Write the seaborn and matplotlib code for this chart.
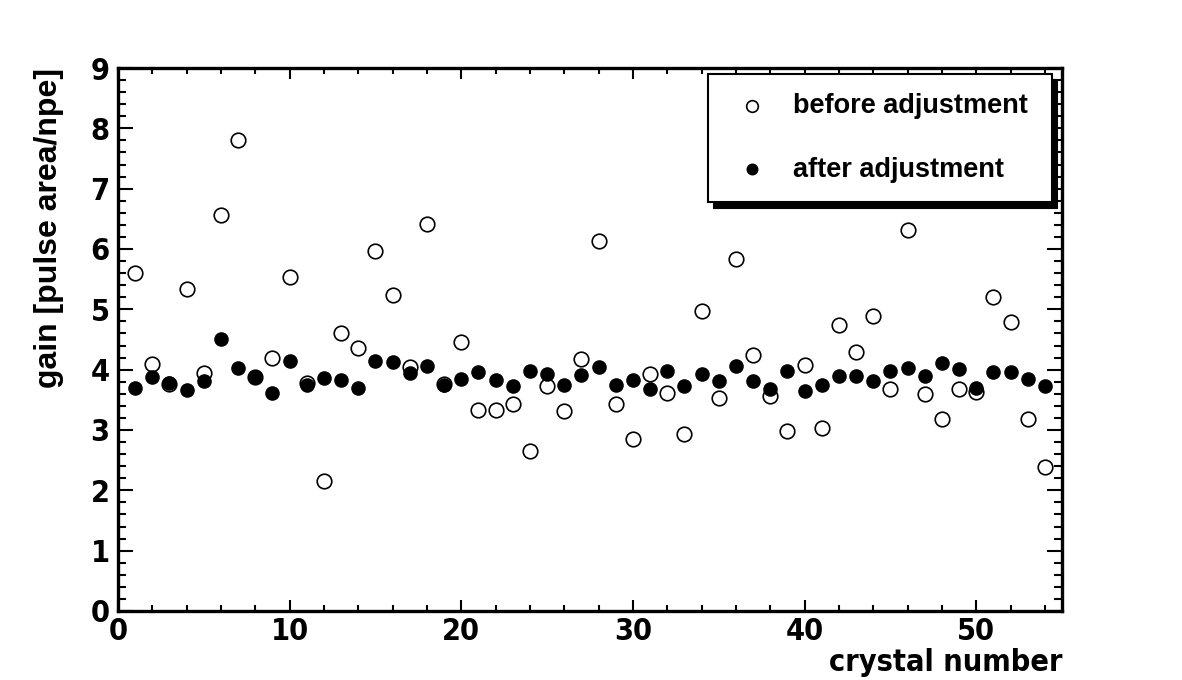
import numpy as np
import pandas as pd
import matplotlib
matplotlib.use("Agg")
import matplotlib.pyplot as plt
from matplotlib import font_manager
from matplotlib.ticker import MultipleLocator
import seaborn as sns

# gain per crystal
crystal = list(range(1, 55))
gain_before = [5.61, 4.09, 3.77, 5.34, 3.94, 6.57, 7.80, 3.88, 4.19, 5.54,
               3.78, 2.16, 4.61, 4.36, 5.97, 5.24, 4.04, 6.42, 3.76, 4.46,
               3.33, 3.33, 3.43, 2.65, 3.73, 3.31, 4.18, 6.14, 3.43, 2.85,
               3.93, 3.61, 2.93, 4.97, 3.53, 5.84, 4.24, 3.56, 2.98, 4.08,
               3.03, 4.74, 4.29, 4.89, 3.68, 6.31, 3.59, 3.19, 3.68, 3.63,
               5.21, 4.79, 3.19, 2.38]
gain_after = [3.69, 3.88, 3.78, 3.66, 3.81, 4.51, 4.03, 3.88, 3.61, 4.14,
              3.74, 3.86, 3.83, 3.69, 4.14, 4.13, 3.94, 4.06, 3.74, 3.84,
              3.96, 3.83, 3.73, 3.98, 3.93, 3.74, 3.91, 4.04, 3.74, 3.83,
              3.68, 3.98, 3.73, 3.93, 3.81, 4.06, 3.81, 3.68, 3.98, 3.64,
              3.74, 3.89, 3.89, 3.81, 3.98, 4.03, 3.89, 4.11, 4.01, 3.69,
              3.96, 3.96, 3.84, 3.73]

df = pd.DataFrame({"crystal": crystal, "before": gain_before, "after": gain_after})

sns.set_style("ticks")
plt.rcParams["font.family"] = ["Liberation Sans", "DejaVu Sans"]
plt.rcParams["font.weight"] = "bold"
for k in ["text.color", "axes.labelcolor", "xtick.color", "ytick.color", "axes.edgecolor"]:
    plt.rcParams[k] = "black"

# condensed bold face for the tick numbers, like the original (if there is one)
def heavy(w):
    if isinstance(w, str):
        return w in ("bold", "heavy", "black", "extra bold", "semibold", "demibold")
    return w >= 600

cands = sorted({f.name for f in font_manager.fontManager.ttflist
                if ("Narrow" in f.name or "Condensed" in f.name or f.stretch in ("condensed", "semi-condensed"))
                and heavy(f.weight)})
pref = [n for n in cands if "Liberation" in n] + [n for n in cands if "DejaVu" in n] + cands
tick_font = pref[:1] + ["Liberation Sans", "DejaVu Sans"]
tick_stretch = "condensed" if pref else "normal"

fig = plt.figure(figsize=(11.82, 6.8), dpi=100)
ax = fig.add_axes([0.0998, 0.1015, 0.7987, 0.7985])

sns.scatterplot(data=df, x="crystal", y="before", ax=ax, s=110, marker="o",
                facecolor="white", edgecolor="black", linewidth=1.2,
                label="before adjustment", zorder=3)
sns.scatterplot(data=df, x="crystal", y="after", ax=ax, s=90, marker="o",
                color="black", edgecolor="black", linewidth=1.0,
                label="after adjustment", zorder=4)

ax.set_xlim(0, 55)
ax.set_ylim(0, 9)
ax.xaxis.set_major_locator(MultipleLocator(10))
ax.xaxis.set_minor_locator(MultipleLocator(2))
ax.yaxis.set_major_locator(MultipleLocator(1))
ax.yaxis.set_minor_locator(MultipleLocator(0.2))

for s in ax.spines.values():
    s.set_linewidth(2.4)
    s.set_color("black")

ax.tick_params(axis="both", which="both", direction="in", top=True, right=True,
               width=1.5, color="black", labelcolor="black")
ax.tick_params(axis="x", which="major", length=8, pad=4)
ax.tick_params(axis="x", which="minor", length=4)
ax.tick_params(axis="y", which="major", length=11, pad=6)
ax.tick_params(axis="y", which="minor", length=6)

for lab in ax.get_xticklabels() + ax.get_yticklabels():
    lab.set_fontfamily(tick_font)
    lab.set_fontstretch(tick_stretch)
    lab.set_fontweight("bold")
    lab.set_fontsize(22)

ax.set_xlabel("crystal number", loc="right", fontsize=22, fontweight="bold",
              family=tick_font, fontstretch=tick_stretch, labelpad=2)
ax.set_ylabel("gain [pulse area/npe]", loc="top", fontsize=23, fontweight="bold",
              labelpad=19)

leg = ax.legend(loc="upper left", bbox_to_anchor=(0.625, 0.989, 0.364, 0.0),
                mode="expand", frameon=True, fancybox=False,
                shadow={"color": "black", "alpha": 1.0, "ox": 4, "oy": -4},
                prop={"size": 19.5, "weight": "bold"}, markerscale=0.8,
                labelspacing=1.37, borderpad=0.72, handletextpad=0.62,
                handlelength=1.8, borderaxespad=0)
leg.get_frame().set_edgecolor("black")
leg.get_frame().set_linewidth(1.5)

fig.savefig("out.png", dpi=100, facecolor="white")
